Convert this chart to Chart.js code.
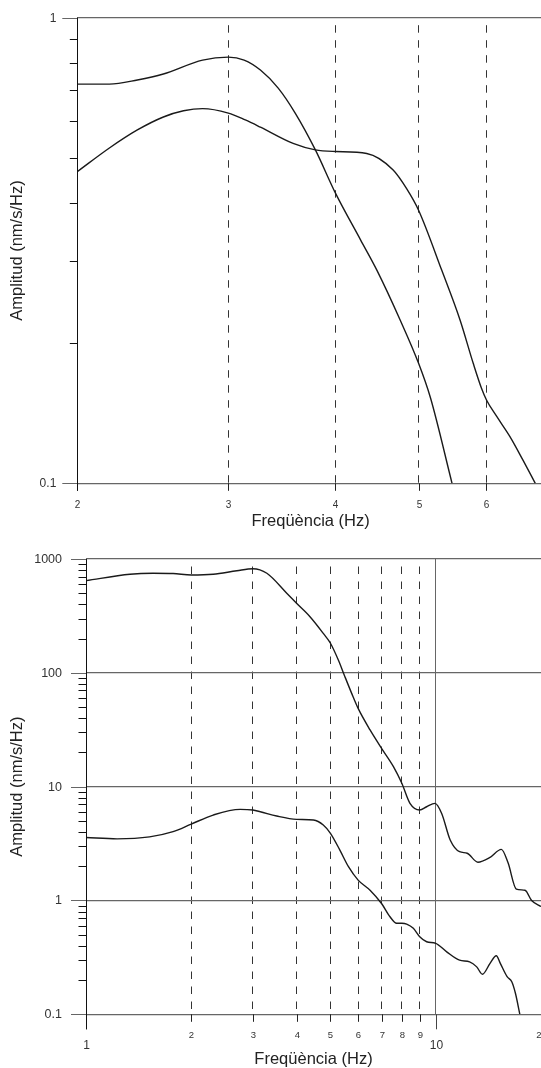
<!DOCTYPE html>
<html lang="ca">
<head>
  <meta charset="UTF-8">
  <title>Amplitud espectral</title>
  <script src="https://cdn.jsdelivr.net/npm/chart.js"></script>
  <style>
    body {
      margin: 0;
      background: #fff;
      overflow: hidden;
      width: 541px;
      height: 1068px;
      position: relative;
    }
    .panel {
      position: absolute;
      left: 0;
      width: 560px;
    }
    #panelTop { top: 0; height: 535px; }
    #panelBottom { top: 535px; height: 533px; }
  </style>
</head>
<body>
  <div class="panel" id="panelTop"><canvas id="chartTop" width="560" height="535"></canvas></div>
  <div class="panel" id="panelBottom"><canvas id="chartBottom" width="560" height="533"></canvas></div>

  <script>
    // ---- panell superior (2-7 Hz) ----
    const topFreqA = [2, 2.18, 2.35, 2.52, 2.80, 3.0, 3.13, 3.27, 3.43, 3.59, 3.79, 4.0, 4.28, 4.47, 4.76, 5.0, 5.16, 5.47];
    const topAmpA = [0.72, 0.72, 0.735, 0.757, 0.811, 0.823, 0.811, 0.772, 0.706, 0.624, 0.520, 0.420, 0.333, 0.287, 0.224, 0.181, 0.153, 0.1];

    const topFreqB = [2, 2.18, 2.35, 2.52, 2.66, 2.80, 3.0, 3.14, 3.27, 3.57, 3.79, 4.0, 4.35, 4.67, 4.84, 5.0, 5.32, 5.59, 5.79, 5.92, 6.0, 6.17, 6.39, 6.62, 6.84];
    const topAmpB = [0.467, 0.525, 0.574, 0.612, 0.631, 0.638, 0.624, 0.603, 0.582, 0.537, 0.520, 0.516, 0.511, 0.471, 0.430, 0.386, 0.287, 0.224, 0.181, 0.16, 0.151, 0.139, 0.126, 0.112, 0.1];

    const topXTicks = [2, 3, 4, 5, 6, 7];
    const topXLabels = ['2', '3', '4', '5', '6', '7'];
    const topYTicks = [0.1, 0.2, 0.3, 0.4, 0.5, 0.6, 0.7, 0.8, 0.9, 1];
    const topYLabels = ['0.1', '', '', '', '', '', '', '', '', '1'];

    // ---- panell inferior (1-20 Hz) ----
    const botFreqC = [1, 1.336, 1.554, 1.774, 2, 2.31, 2.70, 3, 3.29, 3.75, 4, 4.37, 4.77, 5, 5.27, 5.5, 5.75, 6, 6.49, 7, 7.57, 8, 8.44, 9, 9.42, 9.95, 10.4, 11.0, 11.7, 12.3, 13.2, 14.3, 15.4, 16.1, 17.0, 18.0, 18.8, 20];
    const botAmpC = [645, 734, 749, 745, 723, 734, 789, 822, 749, 500, 408, 311, 222, 182, 129, 92.5, 66, 48.7, 31.5, 21.7, 15, 10.7, 7.13, 6.23, 6.66, 7.13, 5.82, 3.40, 2.68, 2.6, 2.17, 2.39, 2.81, 2.14, 1.26, 1.23, 1.0, 0.885];

    const botFreqD = [1, 1.227, 1.52, 1.774, 2, 2.31, 2.76, 3, 3.15, 3.51, 4, 4.47, 4.77, 5, 5.32, 5.63, 6, 6.49, 7, 7.40, 7.73, 8, 8.26, 8.63, 9, 9.42, 10, 10.75, 11.7, 12.5, 13.1, 13.6, 14.3, 14.9, 15.3, 16.0, 16.5, 16.9, 17.4];
    const botAmpD = [3.58, 3.48, 3.62, 4.02, 4.69, 5.63, 6.32, 6.23, 6.02, 5.52, 5.16, 5.09, 4.6, 3.89, 2.77, 1.98, 1.51, 1.23, 0.94, 0.72, 0.63, 0.63, 0.62, 0.569, 0.48, 0.434, 0.42, 0.354, 0.299, 0.289, 0.261, 0.225, 0.28, 0.327, 0.28, 0.214, 0.193, 0.153, 0.1];

    const botXTicks = [1, 2, 3, 4, 5, 6, 7, 8, 9, 10, 20];
    const botXLabels = ['1', '2', '3', '4', '5', '6', '7', '8', '9', '10', '20'];
    const botYTicks = [];
    [0.1, 1, 10, 100].forEach(d => { for (let k = 1; k < 10; k++) botYTicks.push(+(d * k).toPrecision(3)); });
    botYTicks.push(1000);
    const botYLabels = botYTicks.map(v => [0.1, 1, 10, 100, 1000].includes(v) ? String(v) : '');

    const FONT = "'Liberation Sans', Arial, sans-serif";
    const GRID = '#666';
    const DASH = '#333';
    const CURVE = '#1a1a1a';

    const isDecade = v => Math.abs(Math.log10(v) - Math.round(Math.log10(v))) < 1e-9;
    const crisp = p => Math.round(p) + 0.5;

    // eixos, marques i etiquetes de les escales logarítmiques
    const logFrame = {
      id: 'logFrame',
      afterDraw(chart, args, o) {
        const { ctx, chartArea: a, scales: { x, y } } = chart;
        ctx.save();
        ctx.lineWidth = 1;

        o.yTicks.forEach((v, i) => {
          const py = crisp(y.getPixelForValue(v));
          const major = isDecade(v);
          ctx.strokeStyle = major ? GRID : '#111';
          ctx.beginPath();
          ctx.moveTo(a.left - (major ? 15 : 7.5), py);
          ctx.lineTo(a.left, py);
          ctx.stroke();
          if (o.yLabels[i]) {
            ctx.fillStyle = '#333';
            ctx.font = `${o.yFont}px ${FONT}`;
            ctx.textAlign = 'right';
            ctx.textBaseline = 'middle';
            ctx.fillText(o.yLabels[i], a.left - o.yLabelGap, py);
          }
        });

        o.xTicks.forEach((v, i) => {
          const px = crisp(x.getPixelForValue(v));
          const major = isDecade(v);
          ctx.strokeStyle = major ? '#444' : '#222';
          ctx.beginPath();
          ctx.moveTo(px, a.bottom);
          ctx.lineTo(px, a.bottom + (major ? 15 : 7.5));
          ctx.stroke();
          if (o.xLabels[i]) {
            ctx.fillStyle = '#333';
            ctx.font = `${major ? 12 : o.xFont}px ${FONT}`;
            ctx.textAlign = 'center';
            ctx.textBaseline = 'middle';
            ctx.fillText(o.xLabels[i], px, a.bottom + (major ? 31 : o.xLabelGap));
          }
        });

        // eix vertical
        ctx.strokeStyle = '#111';
        ctx.beginPath();
        ctx.moveTo(crisp(a.left), a.top);
        ctx.lineTo(crisp(a.left), a.bottom + o.axisExtra);
        ctx.stroke();
        ctx.restore();
      }
    };

    function makeChart(id, cfg) {
      const toPoints = (fs, as) => fs.map((f, i) => ({ x: f, y: as[i] }));
      new Chart(document.getElementById(id), {
        type: 'line',
        data: {
          datasets: cfg.series.map(s => ({
            data: toPoints(s[0], s[1]),
            borderColor: CURVE,
            borderWidth: 1.4,
            pointRadius: 0,
            cubicInterpolationMode: 'monotone',
            fill: false
          }))
        },
        options: {
          responsive: false,
          animation: false,
          layout: { padding: cfg.padding },
          plugins: {
            legend: { display: false },
            tooltip: { enabled: false },
            logFrame: cfg.frame
          },
          scales: {
            x: {
              type: 'logarithmic',
              min: cfg.xMin,
              max: cfg.xMax,
              bounds: 'data',
              afterBuildTicks: s => { s.ticks = cfg.frame.xTicks.map(v => ({ value: v })); },
              afterFit: s => { s.height = cfg.xHeight; },
              ticks: { display: false },
              border: {
                display: false,
                dash: c => (c.tick && c.tick.value === 10) ? [] : [7.5, 7.5],
                dashOffset: 7.5
              },
              grid: {
                drawTicks: false,
                lineWidth: 1,
                color: c => {
                  if (!c.tick || c.tick.value <= cfg.xMin) return 'rgba(0,0,0,0)';
                  return c.tick.value === 10 ? GRID : DASH;
                }
              },
              title: {
                display: true,
                text: 'Freqüència (Hz)',
                color: '#222',
                font: { family: FONT, size: 16.5, lineHeight: 1 },
                padding: { top: 0, bottom: cfg.xTitlePad }
              }
            },
            y: {
              type: 'logarithmic',
              min: cfg.yMin,
              max: cfg.yMax,
              bounds: 'data',
              afterBuildTicks: s => { s.ticks = cfg.frame.yTicks.map(v => ({ value: v })); },
              afterFit: s => { s.width = cfg.yWidth; },
              ticks: { display: false },
              border: { display: false },
              grid: {
                drawTicks: false,
                lineWidth: 1.2,
                color: c => (c.tick && isDecade(c.tick.value)) ? GRID : 'rgba(0,0,0,0)'
              },
              title: {
                display: true,
                text: 'Amplitud (nm/s/Hz)',
                color: '#222',
                font: { family: FONT, size: 16.5, lineHeight: 1 },
                padding: { top: 9.25, bottom: 0 }
              }
            }
          }
        },
        plugins: [logFrame]
      });
    }

    makeChart('chartTop', {
      series: [[topFreqA, topAmpA], [topFreqB, topAmpB]],
      xMin: 2, xMax: 7, yMin: 0.1, yMax: 1,
      padding: { left: 0, top: 17.7, right: 16.1, bottom: 0 },
      xHeight: 51.7, yWidth: 77.3, xTitlePad: 5.75,
      frame: {
        xTicks: topXTicks, xLabels: topXLabels, xFont: 10, xLabelGap: 21.7,
        yTicks: topYTicks, yLabels: topYLabels, yFont: 12, yLabelGap: 21,
        axisExtra: 7.5
      }
    });

    makeChart('chartBottom', {
      series: [[botFreqC, botAmpC], [botFreqD, botAmpD]],
      xMin: 1, xMax: 20, yMin: 0.1, yMax: 1000,
      padding: { left: 0, top: 24, right: 19, bottom: 0 },
      xHeight: 53.7, yWidth: 86, xTitlePad: 0.75,
      frame: {
        xTicks: botXTicks, xLabels: botXLabels, xFont: 9.5, xLabelGap: 20.7,
        yTicks: botYTicks, yLabels: botYLabels, yFont: 12.5, yLabelGap: 24,
        axisExtra: 15
      }
    });
  </script>
</body>
</html>
